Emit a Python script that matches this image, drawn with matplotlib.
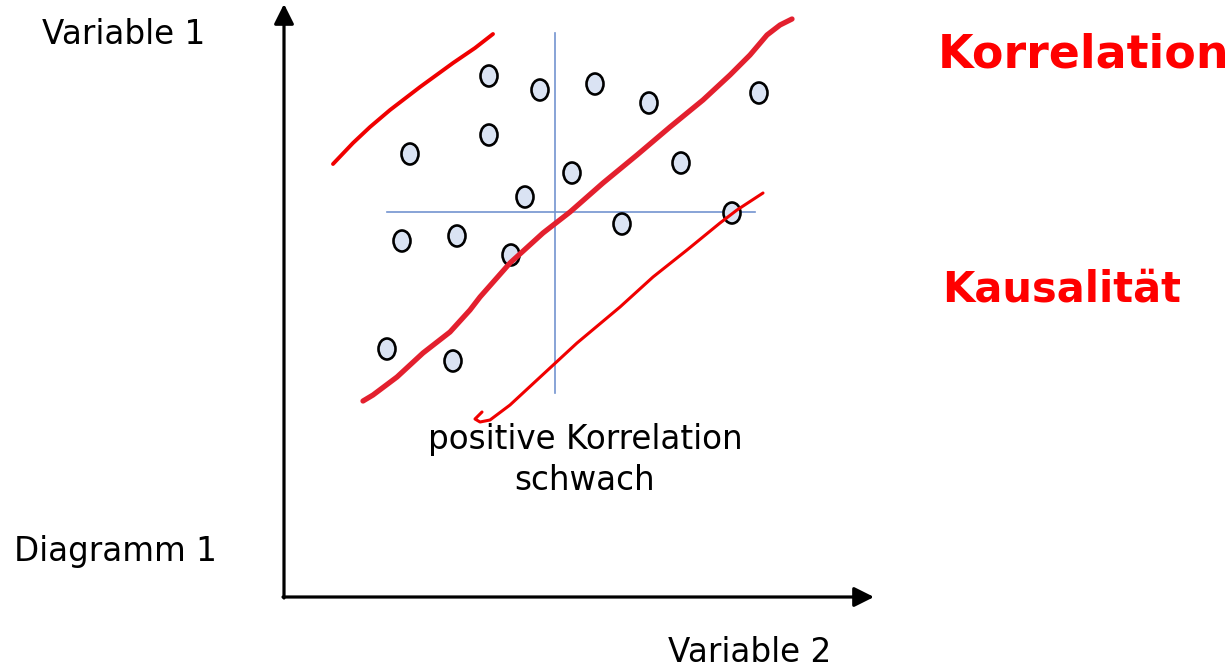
import matplotlib
matplotlib.use("Agg")
import matplotlib.pyplot as plt
from matplotlib.patches import Ellipse

# scatter points (slide coordinates, y grows downward)
pts_x = [489, 540, 595, 649, 759, 410, 489, 681, 572, 525, 402, 457, 511, 622, 732, 387, 453]
pts_y = [76, 90, 84, 103, 93, 154, 135, 163, 173, 197, 241, 236, 255, 224, 213, 349, 361]

# handwritten red strokes
upper_x = [333, 353, 370, 390, 420, 453, 475, 493]
upper_y = [164, 143, 127, 110, 87, 63, 48, 34]
main_x = [363, 373, 397, 423, 450, 470, 480, 510, 543, 570, 603, 637, 670, 703, 730, 750, 767, 780, 792]
main_y = [401, 395, 377, 353, 332, 310, 297, 263, 233, 212, 183, 155, 127, 100, 75, 55, 35, 25, 19]
lower_x = [482, 475, 480, 490, 510, 537, 577, 620, 653, 687, 720, 737, 763]
lower_y = [412, 419, 422, 420, 405, 380, 343, 307, 277, 250, 223, 210, 193]

fig = plt.figure(figsize=(12.32, 6.70), dpi=100)
ax = fig.add_axes([0, 0, 1, 1])
ax.set_xlim(0, 1232)
ax.set_ylim(670, 0)
ax.axis("off")

# axes arrows
arrow = dict(arrowstyle="-|>,head_length=0.6,head_width=0.3", lw=2.3, color="black",
             mutation_scale=20, shrinkA=0, shrinkB=0)
ax.annotate("", xy=(284, 4), xytext=(284, 598), arrowprops=arrow)
ax.annotate("", xy=(874, 597), xytext=(283, 597), arrowprops=arrow)

# blue crosshair
ax.plot([387, 755], [212, 212], color="#7394d0", lw=1.2)
ax.plot([555, 555], [33, 393], color="#7394d0", lw=1.2)

for x, y in zip(pts_x, pts_y):
    ax.add_patch(Ellipse((x, y), 17, 21, facecolor="#dae3f3", edgecolor="black", lw=1.9, zorder=3))

ax.plot(upper_x, upper_y, color="#f00000", lw=2.8, solid_capstyle="round",
        solid_joinstyle="round", zorder=4)
ax.plot(main_x, main_y, color="#e3202e", lw=3.8, solid_capstyle="round",
        solid_joinstyle="round", zorder=4)
ax.plot(lower_x, lower_y, color="#f00000", lw=2.2, solid_capstyle="round",
        solid_joinstyle="round", zorder=4)

txt = dict(fontsize=23.5, color="black", family="DejaVu Sans")
ax.text(42, 35, "Variable 1", va="center", ha="left", **txt)
ax.text(14, 551, "Diagramm 1", va="center", ha="left", **txt)
ax.text(750, 652, "Variable 2", va="center", ha="center", **txt)
ax.text(585, 460, "positive Korrelation\nschwach", va="center", ha="center", linespacing=1.32, **txt)

hand = dict(color="#ff0000", family="DejaVu Sans", fontweight="bold")
ax.text(1084, 55, "Korrelation", fontsize=33, ha="center", va="center", **hand)
ax.text(1062, 290, "Kausalität", fontsize=30, ha="center", va="center", **hand)

fig.savefig("out.png", dpi=100)
